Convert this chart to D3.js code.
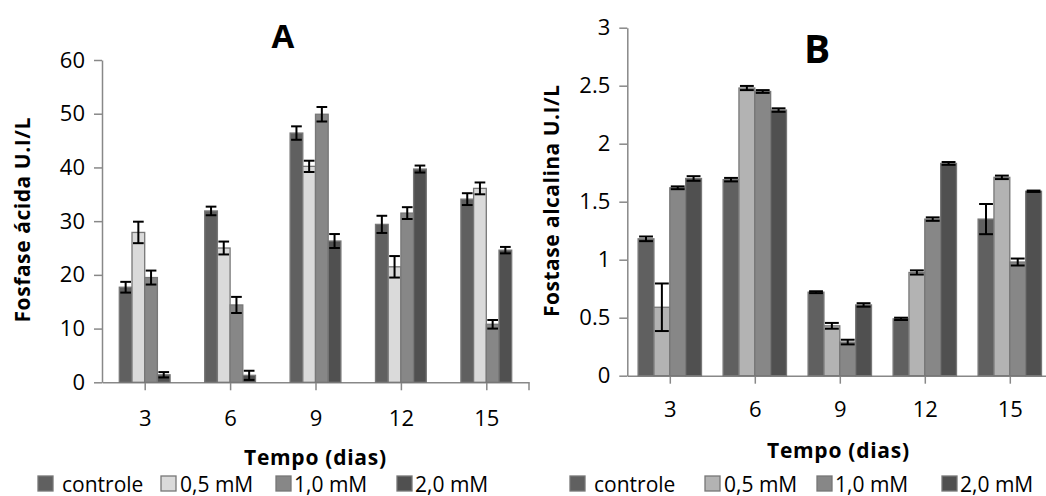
<!DOCTYPE html>
<html>
<head>
<meta charset="utf-8">
<script src="https://cdn.jsdelivr.net/npm/d3@7"></script>
<style>
    body { margin: 0; background: #fff; }
    text { font-family: "Open Sans", sans-serif; fill: #000; }
    .axis path, .axis line { stroke: #888; stroke-width: 1.5; }
</style>
</head>
<body>
<svg id="chart" width="1046" height="496"></svg>
<script>
// categories
const days = ["3", "6", "9", "12", "15"];
const series = ["controle", "0,5 mM", "1,0 mM", "2,0 mM"];

// panel A - fosfase acida (U.I/L)
const acidaControle = [17.7, 31.9, 46.4, 29.4, 34.1];
const acida05 = [27.9, 25.0, 40.2, 21.5, 36.1];
const acida10 = [19.5, 14.4, 49.9, 31.5, 10.8];
const acida20 = [1.4, 1.3, 26.3, 39.7, 24.6];
const acidaErrControle = [1.0, 0.8, 1.25, 1.6, 1.1];
const acidaErr05 = [2.0, 1.2, 1.05, 2.0, 1.1];
const acidaErr10 = [1.3, 1.5, 1.35, 1.1, 0.8];
const acidaErr20 = [0.5, 0.85, 1.3, 0.65, 0.6];
const acidaTicks = [0, 10, 20, 30, 40, 50, 60];

// panel B - fostase alcalina (U.I/L)
const alcalinaControle = [1.18, 1.69, 0.72, 0.49, 1.35];
const alcalina05 = [0.59, 2.48, 0.43, 0.89, 1.71];
const alcalina10 = [1.62, 2.45, 0.29, 1.35, 0.98];
const alcalina20 = [1.70, 2.29, 0.61, 1.83, 1.59];
const alcalinaErrControle = [0.02, 0.015, 0.008, 0.01, 0.13];
const alcalinaErr05 = [0.205, 0.018, 0.025, 0.018, 0.015];
const alcalinaErr10 = [0.012, 0.012, 0.02, 0.015, 0.03];
const alcalinaErr20 = [0.02, 0.015, 0.015, 0.012, 0.006];
const alcalinaTicks = [0, 0.5, 1, 1.5, 2, 2.5, 3];

const svg = d3.select("#chart");

function drawPanel(p) {
    let g = svg.append("g");

    let x0 = d3.scalePoint().domain(days).range([p.left, p.right]).padding(0.5);
    let x1 = d3.scaleBand().domain(series).range([-p.groupW / 2, p.groupW / 2]);
    let y = d3.scaleLinear().domain([0, p.yMax]).range([p.bottom, p.top]);
    let color = d3.scaleOrdinal().domain(series).range(p.colors);

    // y axis
    g.append("g")
        .attr("class", "axis")
        .attr("transform", "translate(" + p.left + ",0)")
        .call(d3.axisLeft(y).tickValues(p.ticks).tickSize(8).tickSizeOuter(0).tickPadding(9).tickFormat(d => String(d)))
        .call(a => a.selectAll("text").style("font-size", "22px").style("font-family", "Open Sans"));

    // x axis
    g.append("g")
        .attr("class", "axis")
        .attr("transform", "translate(0," + p.bottom + ")")
        .call(d3.axisBottom(x0).tickSize(8).tickSizeOuter(0).tickPadding(p.xPad))
        .call(a => a.selectAll("text").style("font-size", "22px").style("font-family", "Open Sans"));

    g.append("line")
        .attr("x1", p.right).attr("x2", p.right)
        .attr("y1", p.bottom).attr("y2", p.bottom + 8)
        .attr("stroke", "#888").attr("stroke-width", 1.5);

    // bars
    let rows = [];
    series.forEach((s, si) => {
        days.forEach((d, di) => {
            rows.push({ s: s, d: d, v: p.values[si][di], e: p.errors[si][di] });
        });
    });

    g.selectAll(".bar")
        .data(rows)
        .enter()
        .append("rect")
        .attr("x", d => x0(d.d) + x1(d.s))
        .attr("y", d => y(d.v))
        .attr("width", x1.bandwidth())
        .attr("height", d => y(0) - y(d.v))
        .attr("fill", d => color(d.s))
        .attr("stroke", "#777")
        .attr("stroke-width", 1.3);

    // error bars
    let cap = x1.bandwidth() / 2;
    let eb = g.selectAll(".err").data(rows).enter().append("g")
        .attr("stroke", "#000").attr("stroke-width", 2);
    eb.append("line")
        .attr("x1", d => x0(d.d) + x1(d.s) + cap)
        .attr("x2", d => x0(d.d) + x1(d.s) + cap)
        .attr("y1", d => y(d.v + d.e))
        .attr("y2", d => y(d.v - d.e));
    eb.append("line")
        .attr("x1", d => x0(d.d) + x1(d.s) + 1)
        .attr("x2", d => x0(d.d) + x1(d.s) + 2 * cap - 1)
        .attr("y1", d => y(d.v + d.e))
        .attr("y2", d => y(d.v + d.e));
    eb.append("line")
        .attr("x1", d => x0(d.d) + x1(d.s) + 1)
        .attr("x2", d => x0(d.d) + x1(d.s) + 2 * cap - 1)
        .attr("y1", d => y(d.v - d.e))
        .attr("y2", d => y(d.v - d.e));

    // titles
    g.append("text")
        .attr("x", p.titleX).attr("y", p.titleY)
        .attr("text-anchor", "middle")
        .style("font-size", p.titleSize + "px")
        .style("font-weight", "bold")
        .text(p.title);

    g.append("text")
        .attr("transform", "translate(" + p.yLabelX + "," + p.yLabelY + ") rotate(-90)")
        .attr("text-anchor", "middle")
        .attr("dominant-baseline", "central")
        .attr("textLength", p.yLabelLen)
        .attr("lengthAdjust", "spacing")
        .style("font-size", "21px")
        .style("font-weight", "bold")
        .text(p.yLabel);

    g.append("text")
        .attr("x", p.xLabelX).attr("y", p.xLabelY)
        .attr("text-anchor", "middle")
        .attr("dominant-baseline", "central")
        .attr("textLength", 142)
        .attr("lengthAdjust", "spacing")
        .style("font-size", "21px")
        .style("font-weight", "bold")
        .text("Tempo (dias)");

    // legend
    let textOffset = [24, 19, 18, 18];
    let lg = g.selectAll(".legend").data(series).enter().append("g")
        .attr("transform", (d, i) => "translate(" + p.legendX[i] + "," + 484 + ")");
    lg.append("rect")
        .attr("x", 0).attr("y", -8)
        .attr("width", 15).attr("height", 15)
        .attr("fill", d => color(d))
        .attr("stroke", "#777").attr("stroke-width", 1.3);
    lg.append("text")
        .attr("x", (d, i) => textOffset[i]).attr("y", 0)
        .attr("dominant-baseline", "central")
        .style("font-size", "21px")
        .text(d => d);
}

drawPanel({
    left: 102, right: 529, top: 60, bottom: 382.3, yMax: 60,
    groupW: 50.8, ticks: acidaTicks, xPad: 20,
    colors: ["#606060", "#dadada", "#878787", "#505050"],
    values: [acidaControle, acida05, acida10, acida20],
    errors: [acidaErrControle, acidaErr05, acidaErr10, acidaErr20],
    title: "A", titleX: 283, titleY: 47.7, titleSize: 33,
    yLabel: "Fosfase ácida U.I/L", yLabelX: 22, yLabelY: 220, yLabelLen: 205,
    xLabelX: 315, xLabelY: 457,
    legendX: [38, 161, 276, 397]
});

drawPanel({
    left: 627.3, right: 1052.3, top: 27.7, bottom: 375.7, yMax: 3,
    groupW: 63.4, ticks: alcalinaTicks, xPad: 18,
    colors: ["#606060", "#b3b3b3", "#878787", "#505050"],
    values: [alcalinaControle, alcalina05, alcalina10, alcalina20],
    errors: [alcalinaErrControle, alcalinaErr05, alcalinaErr10, alcalinaErr20],
    title: "B", titleX: 817, titleY: 63.3, titleSize: 39,
    yLabel: "Fostase alcalina U.I/L", yLabelX: 551, yLabelY: 201, yLabelLen: 232,
    xLabelX: 838, xLabelY: 450,
    legendX: [570, 705, 817, 942]
});
</script>
</body>
</html>
